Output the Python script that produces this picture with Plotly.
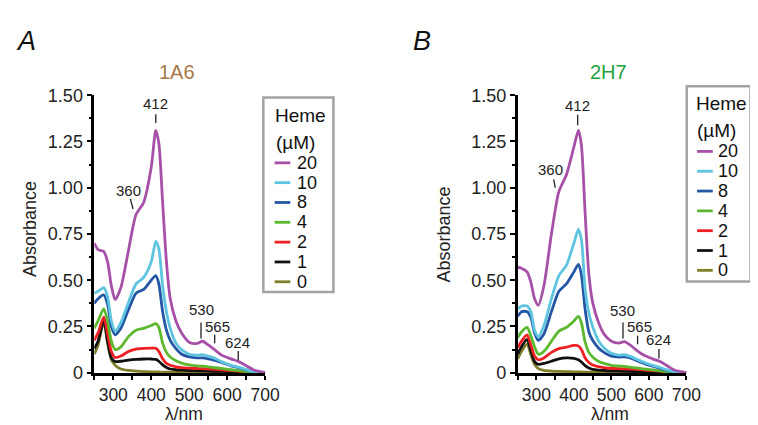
import plotly.graph_objects as go

W, H = 758, 425

# ---------------- data ----------------
wavelength = [250, 260, 275, 285, 295, 305, 320, 340, 360, 380, 400, 412, 420, 430, 440,
              450, 465, 480, 500, 520, 535, 550, 565, 585, 610, 630, 650, 670, 700]

heme_levels = ["20", "10", "8", "4", "2", "1", "0"]
heme_colors = ["#a650a8", "#5ec4e0", "#2456a6", "#5cb82e", "#ed2024", "#111111", "#807f2b"]

# Panel A (1A6)
A_20 = [.70, .665, .655, .60, .47, .395, .46, .66, .855, .92, 1.11, 1.31, 1.24, .92, .60,
        .40, .28, .215, .165, .158, .17, .15, .127, .095, .075, .060, .038, .015, 0]
A_10 = [.43, .44, .46, .41, .28, .225, .27, .38, .48, .515, .60, .71, .67, .47, .33,
        .24, .16, .125, .10, .095, .097, .09, .08, .06, .04, .03, .017, .005, 0]
A_8 = [.375, .40, .42, .37, .25, .205, .24, .34, .43, .45, .50, .525, .48, .33, .23,
       .175, .13, .10, .085, .08, .08, .075, .068, .055, .037, .027, .015, .004, 0]
A_4 = [.24, .28, .345, .28, .17, .125, .14, .195, .23, .24, .255, .265, .245, .16, .11,
       .085, .065, .052, .042, .037, .035, .032, .028, .023, .016, .011, .006, .002, 0]
A_2 = [.175, .215, .30, .21, .115, .082, .09, .115, .128, .132, .133, .132, .115, .075, .05,
       .04, .032, .028, .025, .023, .022, .02, .018, .015, .011, .008, .004, .001, 0]
A_1 = [.13, .17, .285, .17, .08, .06, .062, .068, .072, .074, .074, .072, .062, .042, .028,
       .02, .016, .014, .012, .011, .01, .009, .008, .007, .005, .004, .002, .001, 0]
A_0 = [.10, .15, .275, .16, .07, .04, .02, .012, .008, .006, .005, .004, .004, .003, .003,
       .003, .002, .002, .002, .002, .002, .001, .001, .001, .001, .001, 0, 0, 0]

# Panel B (2H7)
B_20 = [.57, .565, .545, .49, .40, .365, .47, .75, .98, 1.07, 1.22, 1.31, 1.23, .86, .53,
        .38, .275, .21, .17, .16, .168, .15, .125, .097, .075, .060, .036, .013, 0]
B_10 = [.345, .36, .36, .33, .23, .195, .255, .40, .525, .58, .70, .775, .72, .45, .32,
        .25, .175, .135, .105, .095, .097, .088, .075, .058, .04, .028, .015, .004, 0]
B_8 = [.305, .33, .33, .30, .215, .175, .21, .33, .44, .48, .545, .585, .53, .34, .22,
       .175, .135, .11, .09, .085, .086, .08, .068, .052, .035, .024, .012, .003, 0]
B_4 = [.19, .22, .245, .20, .14, .10, .115, .17, .225, .245, .28, .305, .27, .165, .11,
       .085, .062, .05, .04, .036, .034, .03, .026, .021, .015, .01, .005, .002, 0]
B_2 = [.135, .17, .205, .15, .09, .07, .08, .11, .13, .138, .148, .145, .125, .08, .055,
       .042, .033, .028, .024, .022, .021, .02, .018, .015, .011, .008, .004, .001, 0]
B_1 = [.10, .14, .18, .12, .06, .045, .05, .062, .075, .08, .078, .07, .058, .038, .025,
       .018, .014, .012, .01, .009, .008, .007, .006, .005, .004, .003, .002, .001, 0]
B_0 = [.075, .115, .155, .10, .045, .022, .013, .009, .007, .006, .005, .004, .004, .003, .003,
       .003, .002, .002, .002, .002, .002, .001, .001, .001, .001, .001, 0, 0, 0]

panel_A = [A_20, A_10, A_8, A_4, A_2, A_1, A_0]
panel_B = [B_20, B_10, B_8, B_4, B_2, B_1, B_0]

# peak labels: (text, label x, label y, tick x0, tick y0, tick x1, tick y1)
peaks_A = [("412", 412, 1.455, 412, 1.397, 412, 1.350),
           ("360", 340, 0.985, 345, 0.94, 352, 0.885),
           ("530", 531, 0.340, 531, 0.272, 531, 0.185),
           ("565", 574, 0.252, 567, 0.205, 567, 0.159),
           ("624", 628, 0.165, 629, 0.118, 629, 0.067)]
peaks_B = [("412", 410, 1.445, 410, 1.394, 410, 1.337),
           ("360", 337, 1.100, 346, 1.045, 350, 1.000),
           ("530", 531, 0.334, 531, 0.272, 531, 0.185),
           ("565", 575, 0.252, 570, 0.200, 570, 0.154),
           ("624", 627, 0.180, 627, 0.128, 627, 0.077)]

ytick_vals = [0, 0.25, 0.5, 0.75, 1.0, 1.25, 1.5]
ytick_text = ["0", "0.25", "0.50", "0.75", "1.00", "1.25", "1.50"]

FONT = "Liberation Sans, Arial, sans-serif"

fig = go.Figure()

def px2x(px):
    return px / W

def px2y(py):
    return 1 - py / H

# ---------------- traces ----------------
for panel, xa, ya in [(panel_A, "x", "y"), (panel_B, "x2", "y2")]:
    for i in reversed(range(len(heme_levels))):
        fig.add_trace(go.Scatter(
            x=wavelength, y=panel[i], mode="lines",
            line=dict(color=heme_colors[i], width=2.8, shape="spline", smoothing=0.7),
            xaxis=xa, yaxis=ya, showlegend=False, name=heme_levels[i] + " \u00b5M"))

axis_common = dict(showline=True, linecolor="black", linewidth=2.5, ticks="outside",
                   ticklen=5, tickwidth=2, tickcolor="black", showgrid=False,
                   zeroline=False, tickfont=dict(family=FONT, size=18, color="#222"))

xdom_A = [px2x(88), px2x(262.4)]
xdom_B = [px2x(520), px2x(692)]
ydom = [px2y(373), px2y(81)]

xaxis_cfg = dict(axis_common, range=[250, 700], tickmode="linear", tick0=300, dtick=100,
                 ticklen=4, tickfont=dict(family=FONT, size=17.5, color="#222"),
                 minor=dict(tickmode="linear", tick0=250, dtick=50, ticklen=4, tickwidth=2,
                            tickcolor="black", ticks="outside"))
yaxis_cfg = dict(axis_common, range=[-0.004, 1.5], tickmode="array", tickvals=ytick_vals,
                 ticktext=ytick_text,
                 minor=dict(tickmode="linear", tick0=0, dtick=0.125, ticklen=3, tickwidth=2,
                            tickcolor="black", ticks="outside"))

fig.update_layout(
    width=W, height=H, margin=dict(l=0, r=0, t=0, b=0),
    paper_bgcolor="white", plot_bgcolor="white",
    xaxis=dict(xaxis_cfg, domain=xdom_A, anchor="y"),
    yaxis=dict(yaxis_cfg, domain=ydom, anchor="x"),
    xaxis2=dict(xaxis_cfg, domain=xdom_B, anchor="y2"),
    yaxis2=dict(yaxis_cfg, domain=ydom, anchor="x2"),
    showlegend=False,
)

ann = []
shapes = []

# peak labels
for peaks, xr, yr in [(peaks_A, "x", "y"), (peaks_B, "x2", "y2")]:
    for txt, lx, ly, tx0, ty0, tx1, ty1 in peaks:
        ann.append(dict(text=txt, x=lx, y=ly, xref=xr, yref=yr, showarrow=False,
                        font=dict(family=FONT, size=15, color="#222"),
                        xanchor="center", yanchor="middle"))
        shapes.append(dict(type="line", xref=xr, yref=yr, x0=tx0, y0=ty0, x1=tx1, y1=ty1,
                           line=dict(color="#222", width=1.3)))

# panel letters, titles, axis titles
ann += [
    dict(text="<i>A</i>", x=px2x(18), y=px2y(24), font=dict(family=FONT, size=27, color="#111")),
    dict(text="<i>B</i>", x=px2x(422), y=px2y(24), font=dict(family=FONT, size=27, color="#111")),
    dict(text="1A6", x=px2x(172), y=px2y(57), font=dict(family=FONT, size=20, color="#a87846")),
    dict(text="2H7", x=px2x(613), y=px2y(57), font=dict(family=FONT, size=20, color="#22a43c")),
    dict(text="Absorbance", x=px2x(22), y=px2y(222), textangle=-90,
         font=dict(family=FONT, size=18, color="#222")),
    dict(text="Absorbance", x=px2x(445), y=px2y(227), textangle=-90,
         font=dict(family=FONT, size=18, color="#222")),
    dict(text="\u03bb/nm", x=px2x(180), y=px2y(416), font=dict(family=FONT, size=17.5, color="#222")),
    dict(text="\u03bb/nm", x=px2x(614), y=px2y(416), font=dict(family=FONT, size=17.5, color="#222")),
]
for a in ann[-8:]:
    a.update(xref="paper", yref="paper", showarrow=False, xanchor="center", yanchor="middle")

# legends (drawn as boxes with sample lines)
legend_specs = [
    dict(box=(260.5, 83.5, 332, 287.5), head_x=270, heme_y=102, um_y=131,
         line_x=(272, 288), text_x=293, item_y0=152),
    dict(box=(692.5, 71.5, 757.5, 276.5), head_x=700, heme_y=90, um_y=118,
         line_x=(703, 719), text_x=722, item_y0=140),
]
for spec in legend_specs:
    x0, y0, x1, y1 = spec["box"]
    shapes.append(dict(type="rect", xref="paper", yref="paper",
                       x0=px2x(x0), x1=px2x(x1), y0=px2y(y1), y1=px2y(y0),
                       line=dict(color="#a3a3a3", width=2.5), fillcolor="rgba(0,0,0,0)"))
    ann.append(dict(text="Heme", x=px2x(spec["head_x"]), y=px2y(spec["heme_y"]),
                    xref="paper", yref="paper", showarrow=False, xanchor="left",
                    yanchor="middle", font=dict(family=FONT, size=19, color="#111")))
    ann.append(dict(text="(\u00b5M)", x=px2x(spec["head_x"] + 1), y=px2y(spec["um_y"]),
                    xref="paper", yref="paper", showarrow=False, xanchor="left",
                    yanchor="middle", font=dict(family=FONT, size=19, color="#111")))
    for i, (lvl, col) in enumerate(zip(heme_levels, heme_colors)):
        yy = spec["item_y0"] + i * 20.8
        shapes.append(dict(type="line", xref="paper", yref="paper",
                           x0=px2x(spec["line_x"][0]), x1=px2x(spec["line_x"][1]),
                           y0=px2y(yy), y1=px2y(yy), line=dict(color=col, width=2.8)))
        ann.append(dict(text=lvl, x=px2x(spec["text_x"]), y=px2y(yy), xref="paper",
                        yref="paper", showarrow=False, xanchor="left", yanchor="middle",
                        font=dict(family=FONT, size=18, color="#111")))

fig.update_layout(annotations=ann, shapes=shapes)
fig.write_html("out.html")
